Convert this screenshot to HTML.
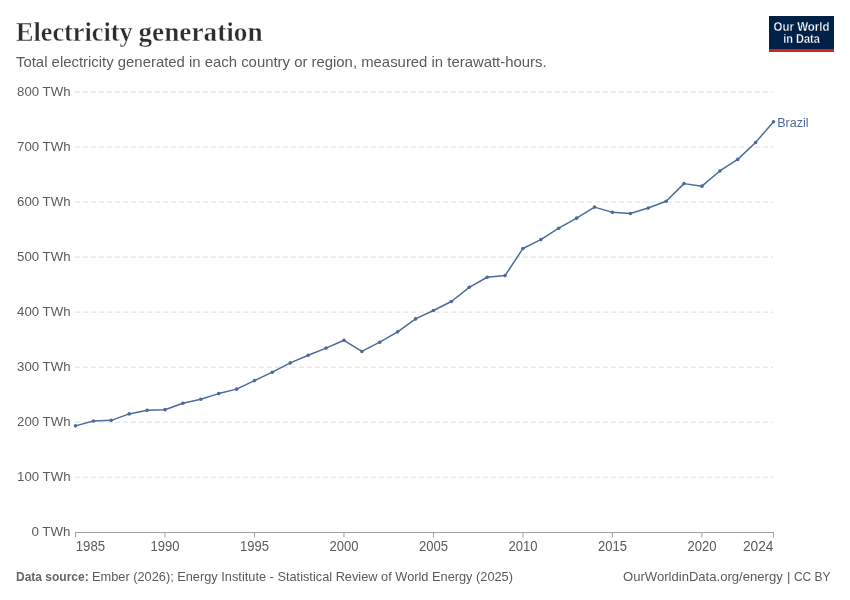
<!DOCTYPE html>
<html><head><meta charset="utf-8"><style>
html,body{margin:0;padding:0;background:#fff;}
body{width:850px;height:600px;position:relative;overflow:hidden;font-family:"Liberation Sans",sans-serif;}
#w{position:absolute;left:0;top:0;width:850px;height:600px;will-change:transform;}
.logo{position:absolute;left:769px;top:16px;width:65px;height:36px;background:#002147;}
.logo .bar{position:absolute;left:0;bottom:0;width:65px;height:3px;background:#ce261e;}
svg{position:absolute;left:0;top:0;}
.grid line{stroke:#dfdfdf;stroke-width:1;stroke-dasharray:5 3;}
.yl text{font-size:13.5px;fill:#5b5b5b;} .xl text{font-size:14.3px;fill:#5b5b5b;}
</style></head><body><div id="w">
<div class="logo"><div class="bar"></div></div>
<svg width="850" height="600" viewBox="0 0 850 600" font-family='"Liberation Sans",sans-serif'>
<g font-family='"Liberation Serif",serif' font-weight="bold" font-size="27" fill="#2d2d2d" stroke="#fff" stroke-width="0.4">
<text x="16" y="40.5" textLength="116.60" lengthAdjust="spacingAndGlyphs">Electricity</text>
<text x="138.5" y="40.5" textLength="124.10" lengthAdjust="spacingAndGlyphs">generation</text>
</g>
<text x="16" y="66.6" font-size="15" fill="#5b5b5b" textLength="530.60" lengthAdjust="spacingAndGlyphs">Total electricity generated in each country or region, measured in terawatt-hours.</text>
<g fill="#fff" stroke="#002147" stroke-width="0.3" font-weight="bold" font-size="12.3" text-anchor="middle">
<text x="801.5" y="30.7" textLength="56.00" lengthAdjust="spacingAndGlyphs">Our World</text>
<text x="801.5" y="42.6" textLength="36.60" lengthAdjust="spacingAndGlyphs">in Data</text>
</g>
<g class="grid"><line x1="75" x2="773" y1="477.26" y2="477.26"/><line x1="75" x2="773" y1="422.22" y2="422.22"/><line x1="75" x2="773" y1="367.18" y2="367.18"/><line x1="75" x2="773" y1="312.14" y2="312.14"/><line x1="75" x2="773" y1="257.10" y2="257.10"/><line x1="75" x2="773" y1="202.06" y2="202.06"/><line x1="75" x2="773" y1="147.02" y2="147.02"/><line x1="75" x2="773" y1="91.98" y2="91.98"/></g>
<g class="yl"><text x="70.5" y="536.10" text-anchor="end" textLength="39.00" lengthAdjust="spacingAndGlyphs">0 TWh</text><text x="70.5" y="481.06" text-anchor="end" textLength="53.40" lengthAdjust="spacingAndGlyphs">100 TWh</text><text x="70.5" y="426.02" text-anchor="end" textLength="53.40" lengthAdjust="spacingAndGlyphs">200 TWh</text><text x="70.5" y="370.98" text-anchor="end" textLength="53.40" lengthAdjust="spacingAndGlyphs">300 TWh</text><text x="70.5" y="315.94" text-anchor="end" textLength="53.40" lengthAdjust="spacingAndGlyphs">400 TWh</text><text x="70.5" y="260.90" text-anchor="end" textLength="53.40" lengthAdjust="spacingAndGlyphs">500 TWh</text><text x="70.5" y="205.86" text-anchor="end" textLength="53.40" lengthAdjust="spacingAndGlyphs">600 TWh</text><text x="70.5" y="150.82" text-anchor="end" textLength="53.40" lengthAdjust="spacingAndGlyphs">700 TWh</text><text x="70.5" y="95.78" text-anchor="end" textLength="53.40" lengthAdjust="spacingAndGlyphs">800 TWh</text></g>
<line x1="75" x2="774" y1="532.5" y2="532.5" stroke="#a1a1a1" stroke-width="1"/>
<g stroke="#a1a1a1" stroke-width="1"><line x1="75.50" x2="75.50" y1="532" y2="537.5"/><line x1="164.99" x2="164.99" y1="532" y2="537.5"/><line x1="254.47" x2="254.47" y1="532" y2="537.5"/><line x1="343.96" x2="343.96" y1="532" y2="537.5"/><line x1="433.45" x2="433.45" y1="532" y2="537.5"/><line x1="522.94" x2="522.94" y1="532" y2="537.5"/><line x1="612.42" x2="612.42" y1="532" y2="537.5"/><line x1="701.91" x2="701.91" y1="532" y2="537.5"/><line x1="773.50" x2="773.50" y1="532" y2="537.5"/></g>
<g class="xl"><text x="75.80" y="550.8" text-anchor="start" textLength="29.30" lengthAdjust="spacingAndGlyphs">1985</text><text x="164.99" y="550.8" text-anchor="middle" textLength="29.00" lengthAdjust="spacingAndGlyphs">1990</text><text x="254.47" y="550.8" text-anchor="middle" textLength="29.00" lengthAdjust="spacingAndGlyphs">1995</text><text x="343.96" y="550.8" text-anchor="middle" textLength="29.00" lengthAdjust="spacingAndGlyphs">2000</text><text x="433.45" y="550.8" text-anchor="middle" textLength="29.00" lengthAdjust="spacingAndGlyphs">2005</text><text x="522.94" y="550.8" text-anchor="middle" textLength="29.00" lengthAdjust="spacingAndGlyphs">2010</text><text x="612.42" y="550.8" text-anchor="middle" textLength="29.00" lengthAdjust="spacingAndGlyphs">2015</text><text x="701.91" y="550.8" text-anchor="middle" textLength="29.00" lengthAdjust="spacingAndGlyphs">2020</text><text x="773.50" y="550.8" text-anchor="end" textLength="30.60" lengthAdjust="spacingAndGlyphs">2024</text></g>
<path d="M75.50,425.85 L93.40,421.01 L111.29,420.35 L129.19,413.91 L147.09,410.28 L164.99,409.67 L182.88,403.29 L200.78,399.27 L218.68,393.60 L236.58,389.14 L254.47,380.61 L272.37,372.19 L290.27,362.89 L308.17,355.29 L326.06,348.08 L343.96,340.27 L361.86,351.44 L379.76,342.19 L397.65,331.84 L415.55,318.91 L433.45,310.49 L451.35,301.52 L469.24,287.32 L487.14,277.24 L505.04,275.59 L522.94,248.46 L540.83,239.60 L558.73,228.20 L576.63,218.13 L594.53,207.12 L612.42,212.35 L630.32,213.56 L648.22,207.95 L666.12,201.23 L684.01,183.62 L701.91,186.15 L719.81,170.96 L737.71,159.40 L755.60,142.45 L773.50,121.70" fill="none" stroke="#4c6a9c" stroke-width="1.5" stroke-linejoin="round"/>
<g fill="#4c6a9c"><circle cx="75.50" cy="425.85" r="1.8"/><circle cx="93.40" cy="421.01" r="1.8"/><circle cx="111.29" cy="420.35" r="1.8"/><circle cx="129.19" cy="413.91" r="1.8"/><circle cx="147.09" cy="410.28" r="1.8"/><circle cx="164.99" cy="409.67" r="1.8"/><circle cx="182.88" cy="403.29" r="1.8"/><circle cx="200.78" cy="399.27" r="1.8"/><circle cx="218.68" cy="393.60" r="1.8"/><circle cx="236.58" cy="389.14" r="1.8"/><circle cx="254.47" cy="380.61" r="1.8"/><circle cx="272.37" cy="372.19" r="1.8"/><circle cx="290.27" cy="362.89" r="1.8"/><circle cx="308.17" cy="355.29" r="1.8"/><circle cx="326.06" cy="348.08" r="1.8"/><circle cx="343.96" cy="340.27" r="1.8"/><circle cx="361.86" cy="351.44" r="1.8"/><circle cx="379.76" cy="342.19" r="1.8"/><circle cx="397.65" cy="331.84" r="1.8"/><circle cx="415.55" cy="318.91" r="1.8"/><circle cx="433.45" cy="310.49" r="1.8"/><circle cx="451.35" cy="301.52" r="1.8"/><circle cx="469.24" cy="287.32" r="1.8"/><circle cx="487.14" cy="277.24" r="1.8"/><circle cx="505.04" cy="275.59" r="1.8"/><circle cx="522.94" cy="248.46" r="1.8"/><circle cx="540.83" cy="239.60" r="1.8"/><circle cx="558.73" cy="228.20" r="1.8"/><circle cx="576.63" cy="218.13" r="1.8"/><circle cx="594.53" cy="207.12" r="1.8"/><circle cx="612.42" cy="212.35" r="1.8"/><circle cx="630.32" cy="213.56" r="1.8"/><circle cx="648.22" cy="207.95" r="1.8"/><circle cx="666.12" cy="201.23" r="1.8"/><circle cx="684.01" cy="183.62" r="1.8"/><circle cx="701.91" cy="186.15" r="1.8"/><circle cx="719.81" cy="170.96" r="1.8"/><circle cx="737.71" cy="159.40" r="1.8"/><circle cx="755.60" cy="142.45" r="1.8"/><circle cx="773.50" cy="121.70" r="1.8"/></g>
<text x="777.2" y="126.8" font-size="13.7" fill="#4c6a9c" textLength="31.40" lengthAdjust="spacingAndGlyphs">Brazil</text>
<g font-size="13" fill="#5b5b5b">
<text x="16" y="580.8" font-weight="bold" fill="#666" textLength="72.70" lengthAdjust="spacingAndGlyphs">Data source:</text>
<text x="92" y="580.8" textLength="421.00" lengthAdjust="spacingAndGlyphs">Ember (2026); Energy Institute - Statistical Review of World Energy (2025)</text>
<text x="623" y="580.8" textLength="159.70" lengthAdjust="spacingAndGlyphs">OurWorldinData.org/energy</text>
<text x="787" y="580.8">|</text>
<text x="830.5" y="580.8" text-anchor="end" textLength="36.60" lengthAdjust="spacingAndGlyphs">CC BY</text>
</g>
</svg>
</div></body></html>
